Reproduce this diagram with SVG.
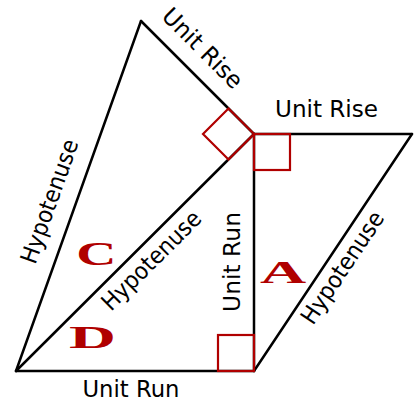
<svg xmlns="http://www.w3.org/2000/svg" width="414" height="403" viewBox="0 0 414 403">
<style>
.edge{fill:none;stroke:#000;stroke-width:2.5;stroke-linecap:round;stroke-linejoin:round}
.ra{fill:none;stroke:#b00000;stroke-width:2.2}
.lbl{font-family:"DejaVu Sans","Liberation Sans",sans-serif;font-size:23.5px;fill:#000}
.big{font-family:"Liberation Serif","DejaVu Serif",serif;font-weight:bold;fill:#b00000;text-anchor:middle}
</style>
<rect width="414" height="403" fill="#fff"/>
<g id="connectors">
<path class="edge" d="M141,21 L254,134"/>
<path class="edge" d="M141,21 L16,371"/>
<path class="edge" d="M16,371 L254,134"/>
<path class="edge" d="M16,371 L254,371"/>
<path class="edge" d="M254,134 L254,371"/>
<path class="edge" d="M254,134 L412,134"/>
<path class="edge" d="M412,134 L254,371"/>
</g>
<g id="right-angles">
<path class="ra" d="M254,134 L228.5,108.5 L203,134 L228.5,159.5 Z"/>
<rect class="ra" x="254" y="134" width="36" height="36"/>
<rect class="ra" x="218" y="335" width="36" height="36"/>
</g>
<g id="triangle-C">
<text class="big" font-size="34" transform="translate(96.5,265) scale(1.64,1)">C</text>
</g>
<g id="triangle-D">
<text class="big" font-size="32" transform="translate(92.5,348) scale(2.03,1)">D</text>
</g>
<g id="triangle-A">
<text class="big" font-size="32" transform="translate(283,283) scale(2,1)">A</text>
</g>
<g id="labels">
<text class="lbl" text-anchor="middle" transform="translate(197,54) rotate(45)" textLength="103" lengthAdjust="spacingAndGlyphs">Unit Rise</text>
<text class="lbl" x="326.5" y="117" text-anchor="middle" textLength="103" lengthAdjust="spacingAndGlyphs">Unit Rise</text>
<text class="lbl" x="131" y="397" text-anchor="middle" textLength="97" lengthAdjust="spacingAndGlyphs">Unit Run</text>
<text class="lbl" text-anchor="middle" transform="translate(240,262) rotate(-90)" textLength="100" lengthAdjust="spacingAndGlyphs">Unit Run</text>
<text class="lbl" text-anchor="middle" transform="translate(57,204) rotate(-70.35)" textLength="130" lengthAdjust="spacingAndGlyphs">Hypotenuse</text>
<text class="lbl" text-anchor="middle" transform="translate(157,266) rotate(-44.9)" textLength="130" lengthAdjust="spacingAndGlyphs">Hypotenuse</text>
<text class="lbl" text-anchor="middle" transform="translate(349,272) rotate(-56.3)" textLength="130" lengthAdjust="spacingAndGlyphs">Hypotenuse</text>
</g>
</svg>
